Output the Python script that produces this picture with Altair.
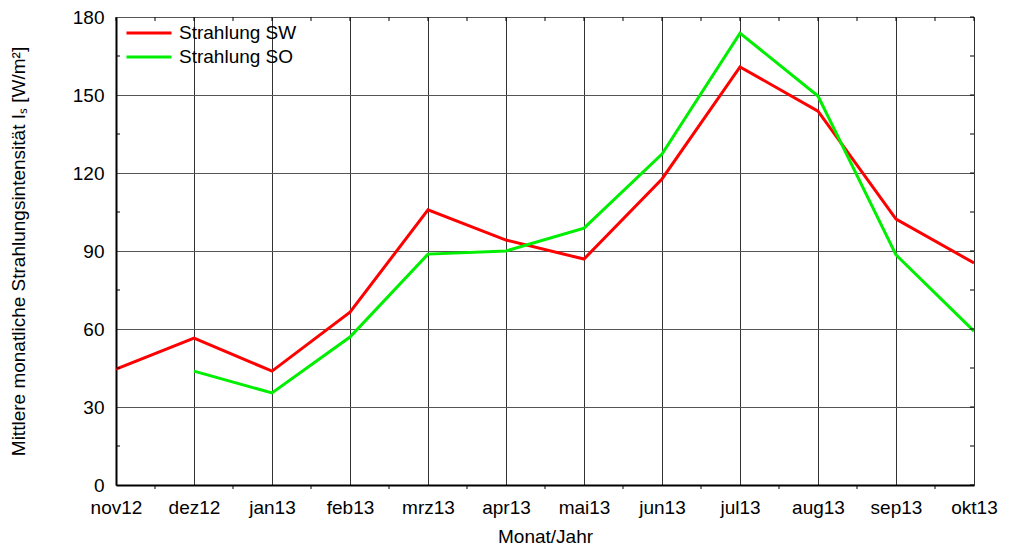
import json
import altair as alt
import pandas as pd

months = ["nov12", "dez12", "jan13", "feb13", "mrz13", "apr13",
          "mai13", "jun13", "jul13", "aug13", "sep13", "okt13"]
strahlung_sw = [44.6, 56.5, 43.8, 66.5, 105.8, 94.2, 86.9, 117.7, 160.8, 143.8, 102.3, 85.4]
strahlung_so = [None, 43.8, 35.4, 56.9, 88.8, 90.0, 98.8, 127.3, 173.8, 149.6, 88.5, 59.2]
series_names = ["Strahlung SW", "Strahlung SO"]
series_colors = ["#ff0000", "#00ee00"]
y_ticks = [0, 30, 60, 90, 120, 150, 180]
y_minor = [15, 45, 75, 105, 135, 165]
x_minor = [i + 0.5 for i in range(len(months) - 1)]

rows = []
for i, m in enumerate(months):
    for name, vals in zip(series_names, [strahlung_sw, strahlung_so]):
        if vals[i] is not None:
            rows.append({"idx": i, "month": m, "series": name, "value": vals[i]})
df = pd.DataFrame(rows)

W, H = 858, 468
FONT = "Liberation Sans"
FS = 19
label_expr = json.dumps(months) + "[datum.value]"

x_scale = alt.Scale(domain=[0, len(months) - 1], nice=False, zero=False)
y_scale = alt.Scale(domain=[0, 180], nice=False)

lines = alt.Chart(df).mark_line(strokeWidth=3, clip=True).encode(
    x=alt.X("idx:Q", scale=x_scale,
            axis=alt.Axis(values=list(range(len(months))), labelExpr=label_expr,
                          title="Monat/Jahr", grid=True, gridColor="#333333", gridWidth=1,
                          gridOpacity=1, ticks=False, labelPadding=13, labelFontSize=FS,
                          labelFlush=False, labelOverlap=False,
                          titleFontSize=FS, titleFontWeight="normal", titlePadding=10,
                          domainColor="black", domainWidth=2, labelColor="black",
                          titleColor="black", labelFont=FONT, titleFont=FONT)),
    y=alt.Y("value:Q", scale=y_scale,
            axis=alt.Axis(values=y_ticks, title="Mittlere monatliche Strahlungsintensität Iₛ [W/m²]",
                          grid=True, gridColor="#555555", gridWidth=1, gridOpacity=1,
                          ticks=False, labelPadding=12, labelFontSize=FS,
                          labelFlush=False, labelOverlap=False,
                          titleFontSize=FS, titleFontWeight="normal", titlePadding=44,
                          domainColor="black", domainWidth=2, labelColor="black",
                          titleColor="black", labelFont=FONT, titleFont=FONT)),
    color=alt.Color("series:N",
                    scale=alt.Scale(domain=series_names, range=series_colors),
                    legend=alt.Legend(title=None, orient="none", legendX=9, legendY=4,
                                      symbolType="stroke", symbolSize=2025,
                                      symbolStrokeWidth=3, labelFontSize=FS,
                                      labelFont=FONT, labelColor="black",
                                      labelOffset=6, rowPadding=0, padding=0,
                                      clipHeight=24)),
    order="idx:Q",
)

xm = pd.DataFrame({"v": x_minor})
ym = pd.DataFrame({"v": y_minor})
xmaj = pd.DataFrame({"v": list(range(len(months)))})
ymaj = pd.DataFrame({"v": y_ticks})

def xtick(d, y1, y2):
    return alt.Chart(d).mark_rule(color="black", strokeWidth=1).encode(
        x=alt.X("v:Q", scale=x_scale), y=alt.value(y1), y2=alt.value(y2))

def ytick(d, x1, x2):
    return alt.Chart(d).mark_rule(color="black", strokeWidth=1).encode(
        y=alt.Y("v:Q", scale=y_scale), x=alt.value(x1), x2=alt.value(x2))

ticks = [
    xtick(xm, H, H + 4), xtick(xm, 0, 4), xtick(xmaj, 0, 4),
    ytick(ym, 0, 4), ytick(ym, W, W - 4), ytick(ymaj, W, W - 4),
]

chart = alt.layer(lines, *ticks).properties(
    width=W, height=H,
    autosize=alt.AutoSizeParams(type="none"),
    padding={"left": 108, "top": 9, "right": 27, "bottom": 64},
).configure_view(stroke="black", strokeWidth=2).configure(background="white")

chart.save("out.html", embed_options={"renderer": "svg", "actions": False})
